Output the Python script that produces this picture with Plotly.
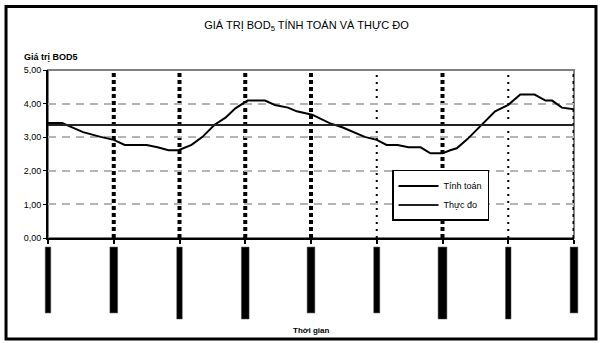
import plotly.graph_objects as go

# Time axis (hours) and computed BOD5 values
t_calc = [0, 1.3, 2.2, 3.2, 4.8, 6.0, 7.0, 9.0, 10.0, 11.0, 11.9, 13.1, 14.1, 15.2,
          16.2, 17.1, 18.2, 19.8, 20.7, 21.9, 22.7, 24.1, 25.7, 26.9, 28.9, 30.0,
          30.9, 31.9, 32.9, 34.0, 34.9, 36.0, 36.7, 37.3, 38.3, 39.4, 40.8, 42.0,
          43.1, 44.4, 45.4, 46.0, 46.9, 48.0]
bod_calc = [3.42, 3.42, 3.29, 3.15, 3.01, 2.92, 2.77, 2.77, 2.70, 2.61, 2.61, 2.77,
            3.01, 3.37, 3.58, 3.86, 4.09, 4.09, 3.96, 3.88, 3.77, 3.67, 3.42, 3.29,
            3.01, 2.92, 2.77, 2.77, 2.70, 2.70, 2.52, 2.52, 2.61, 2.67, 2.95, 3.31,
            3.77, 3.96, 4.27, 4.27, 4.09, 4.09, 3.88, 3.83]

# Measured value (constant over the period)
t_meas = [0, 48]
bod_meas = [3.36, 3.36]

# Category divisions along the time axis
t_ticks = [0, 6, 12, 18, 24, 30, 36, 42, 48]
y_ticks = [0, 1, 2, 3, 4, 5]
T_MAX = 48

FONT = "Liberation Sans, Arial, sans-serif"

fig = go.Figure()
fig.add_trace(go.Scatter(x=t_calc, y=bod_calc, mode="lines", name="Tính toán",
                         line=dict(color="black", width=2)))
fig.add_trace(go.Scatter(x=t_meas, y=bod_meas, mode="lines", name="Thực đo",
                         line=dict(color="#222222", width=2)))

shapes = []
# Plot-area frame (grey top/right)
shapes.append(dict(type="rect", xref="paper", yref="paper", x0=0, x1=1, y0=0, y1=1,
                   line=dict(color="#808080", width=2), layer="below"))
# Vertical division lines inside the plot area
thick = {6, 12, 18, 24, 36}
thin = {30, 42}
for tk in t_ticks[1:]:
    if tk in thick:
        ln = dict(color="black", width=4, dash="4px,3px")
    elif tk in thin:
        ln = dict(color="black", width=2, dash="2px,5px")
    else:
        ln = dict(color="black", width=3, dash="3px,4px")
    shapes.append(dict(type="line", xref="x", yref="paper", x0=tk, x1=tk, y0=0, y1=1,
                       line=ln, layer="below"))
# Vertical bars under the time axis (paper coords so the end bars are not clipped)
bar_w = [0.5, 0.7, 0.5, 0.7, 0.7, 0.55, 0.8, 0.5, 0.7]
bar_bot = [-0.446, -0.446, -0.482, -0.482, -0.446, -0.446, -0.482, -0.482, -0.446]
for tk, w, yb in zip(t_ticks, bar_w, bar_bot):
    shapes.append(dict(type="rect", xref="paper", yref="paper",
                       x0=(tk - w / 2) / T_MAX, x1=(tk + w / 2) / T_MAX,
                       y0=yb, y1=-0.054, fillcolor="black",
                       line=dict(color="#444444", width=0.5)))
# Outer frame of the chart
shapes.append(dict(type="rect", xref="paper", yref="paper",
                   x0=-0.0798, x1=1.0418, y0=-0.601, y1=1.378,
                   line=dict(color="black", width=3)))

fig.update_layout(
    width=601, height=343,
    margin=dict(l=48, r=27, t=70, b=105),
    paper_bgcolor="white", plot_bgcolor="white",
    font=dict(family=FONT, color="black", size=9),
    title=dict(text="GIÁ TRỊ BOD<sub>5</sub> TÍNH TOÁN VÀ THỰC ĐO",
               x=0.51, xanchor="center", y=0.927, yanchor="middle",
               font=dict(size=11, family=FONT, color="black")),
    showlegend=True,
    legend=dict(x=0.654, y=0.405, xanchor="left", yanchor="top",
                bgcolor="white", bordercolor="black", borderwidth=1.5,
                font=dict(size=9, family=FONT), itemwidth=40,
                tracegroupgap=4),
    shapes=shapes,
    annotations=[
        dict(text="<b>Giá trị BOD5</b>", xref="paper", yref="paper",
             x=-0.049, y=1.077, xanchor="left", yanchor="middle",
             showarrow=False, font=dict(size=9, family=FONT)),
        dict(text="<b>Thời gian</b>", xref="paper", yref="paper",
             x=0.5, y=-0.548, xanchor="center", yanchor="middle",
             showarrow=False, font=dict(size=8, family=FONT)),
    ],
)
fig.update_xaxes(range=[0, T_MAX], tickvals=t_ticks, showticklabels=False,
                 ticks="outside", ticklen=4, tickcolor="black", tickwidth=1.5,
                 showline=True, linecolor="black", linewidth=2,
                 showgrid=False, zeroline=False)
fig.update_yaxes(range=[0, 5], tickvals=y_ticks, tickformat=".2f",
                 ticks="outside", ticklen=3, tickcolor="black", tickwidth=1,
                 showline=True, linecolor="black", linewidth=2,
                 showgrid=True, gridcolor="#b4b4b4", gridwidth=1.5,
                 griddash="8px,6px", zeroline=False,
                 tickfont=dict(size=9, family=FONT))
fig.update_layout(separators=",.")

fig.write_html("out.html")
